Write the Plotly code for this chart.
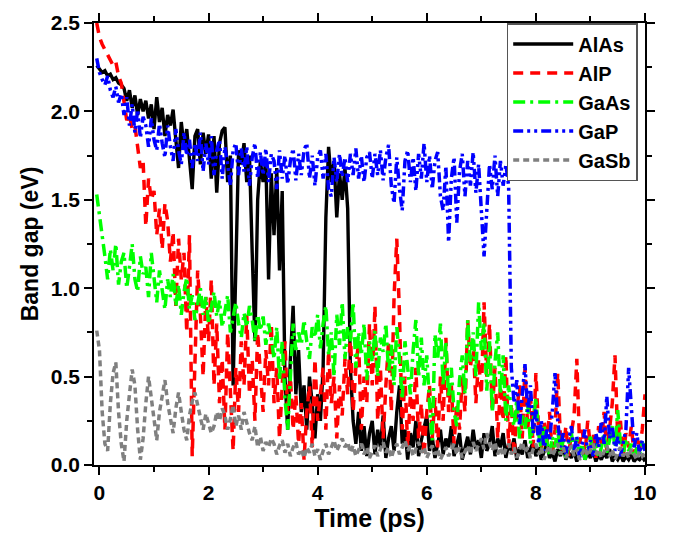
import plotly.graph_objects as go

T_START = -0.05
T_END = 10.0

alas = [
    2.26, 2.24, 2.22, 2.23, 2.20, 2.21, 2.18, 2.19, 2.16, 2.15,
    2.13, 2.06, 2.12, 2.02, 2.09, 1.98, 2.07, 2.00, 2.06, 1.96,
    2.04, 1.90, 2.08, 1.94, 2.02, 1.86, 1.98, 1.92, 2.01, 1.84,
    1.68, 1.94, 1.80, 1.90, 1.74, 1.56, 1.86, 1.90, 1.70, 1.88,
    1.76, 1.87, 1.62, 1.86, 1.54, 1.82, 1.89, 1.91, 1.60, 1.75,
    0.45, 1.20, 1.78, 1.70, 1.82, 1.60, 1.75, 1.20, 0.70, 1.50,
    1.72, 1.60, 1.72, 1.05, 1.65, 1.30, 1.68, 1.10, 1.55, 0.50,
    0.20, 0.60, 0.90, 0.40, 0.65, 0.30, 0.45, 0.20, 0.50, 0.35,
    0.15, 0.40, 0.25, 0.55, 1.40, 1.80, 1.60, 1.72, 1.40, 1.65,
    1.50, 1.68, 1.45, 0.55, 0.25,
    0.12, 0.30, 0.08, 0.22, 0.05, 0.18, 0.25, 0.06, 0.20, 0.10,
    0.28, 0.04, 0.15, 0.22, 0.08, 0.30, 0.45, 0.12, 0.20, 0.03,
    0.18, 0.10, 0.25, 0.05, 0.14, 0.22, 0.28, 0.08, 0.16, 0.04,
    0.12, 0.20, 0.06, 0.15, 0.10, 0.22, 0.05, 0.12, 0.18, 0.03,
    0.10, 0.16, 0.06, 0.20, 0.09, 0.14, 0.04, 0.18, 0.08, 0.12,
    0.22, 0.05, 0.15, 0.10, 0.18, 0.04, 0.12, 0.08, 0.15, 0.03,
    0.10, 0.06, 0.14, 0.04, 0.09, 0.13, 0.05, 0.10, 0.03, 0.08,
    0.12, 0.04, 0.07, 0.02, 0.09, 0.05, 0.11, 0.03, 0.07, 0.04,
    0.08, 0.02, 0.06, 0.10, 0.03, 0.07, 0.04, 0.08, 0.02, 0.06,
    0.03, 0.07, 0.04, 0.09, 0.02, 0.05, 0.03, 0.06, 0.02, 0.05,
    0.03, 0.06, 0.02, 0.04, 0.03, 0.05, 0.02,
]

alp = [
    2.50, 2.42, 2.38, 2.35, 2.33, 2.30, 2.26, 2.28, 2.20, 2.16,
    2.05, 1.95, 1.98, 1.90, 1.92, 1.78, 1.68, 1.72, 1.35, 1.62,
    1.50, 1.55, 1.30, 1.45, 1.22, 1.48, 1.38, 1.15, 1.32, 0.90,
    1.28, 1.05, 1.20, 0.75, 1.30, 0.05, 0.60, 1.10, 0.85, 0.50,
    0.95, 0.70, 1.05, 0.45, 0.80, 0.35, 0.60, 0.20, 0.75, 0.40,
    0.08, 0.55, 0.30, 0.70, 0.45, 0.85, 0.40, 0.60, 0.25, 0.75,
    0.50, 0.30, 0.65, 0.45, 0.80, 0.35, 0.55, 0.15, 0.45, 0.70,
    0.30, 0.50, 0.20, 0.40, 0.12, 0.35, 0.03, 0.30, 0.45, 0.10,
    0.60, 0.25, 0.40, 0.55, 0.20, 0.65, 0.35, 0.50, 0.15, 0.45,
    0.28, 0.60, 0.40, 0.75, 0.30, 0.55, 0.70, 0.20, 0.50, 0.35,
    0.80, 0.45, 0.90, 0.25, 0.55, 0.15, 0.45, 0.70, 0.30, 0.95,
    1.28, 0.85, 0.20, 0.50, 0.10, 0.40, 0.25, 0.55, 0.15, 0.35,
    0.05, 0.30, 0.45, 0.15, 0.38, 0.10, 0.50, 0.25, 0.72, 0.30,
    0.45, 0.12, 0.35, 0.20, 0.50, 0.30, 0.82, 0.55, 0.70, 0.35,
    0.60, 0.40, 0.92, 0.50, 0.80, 0.30, 0.55, 0.15, 0.45, 0.25,
    0.62, 0.10, 0.35, 0.05, 0.30, 0.45, 0.15, 0.55, 0.20, 0.40,
    0.10, 0.52, 0.20, 0.08, 0.25, 0.12, 0.30, 0.05, 0.20, 0.52,
    0.15, 0.08, 0.22, 0.05, 0.18, 0.28, 0.60, 0.12, 0.20, 0.06,
    0.25, 0.10, 0.18, 0.04, 0.22, 0.12, 0.30, 0.08, 0.20, 0.35,
    0.62, 0.15, 0.25, 0.05, 0.18, 0.10, 0.22, 0.06, 0.15, 0.08,
    0.20, 0.40,
]

gaas = [
    1.53, 1.42, 1.30, 1.18, 1.05, 1.22, 1.10, 1.25, 1.02, 1.15,
    1.20, 1.00, 1.12, 1.25, 1.05, 0.98, 1.18, 1.08, 1.12, 0.95,
    1.20, 1.05, 0.92, 1.10, 0.98, 0.88, 1.05, 0.95, 1.08, 0.90,
    1.02, 0.85, 0.98, 1.06, 0.88, 0.96, 0.82, 0.92, 1.00, 0.85,
    0.95, 0.80, 0.90, 0.98, 0.84, 0.93, 0.78, 0.88, 0.96, 0.75,
    0.85, 0.92, 0.80, 0.72, 0.86, 0.78, 0.90, 0.82, 0.70, 0.85,
    0.76, 0.84, 0.68, 0.80, 0.72, 0.60, 0.78, 0.48, 0.70, 0.38,
    0.20, 0.55, 0.80, 0.65, 0.75, 0.68, 0.82, 0.70, 0.60, 0.78,
    0.72, 0.85, 0.66, 0.80, 0.90, 0.62, 0.75, 0.50, 0.85, 0.68,
    0.92, 0.60, 0.78, 0.70, 0.92, 0.55, 0.75, 0.62, 0.80, 0.48,
    0.70, 0.58, 0.76, 0.50, 0.72, 0.64, 0.80, 0.52, 0.68, 0.45,
    0.78, 0.60, 0.37, 0.70, 0.55, 0.40, 0.65, 0.82, 0.50, 0.72,
    0.45, 0.62, 0.35, 0.14, 0.74, 0.60, 0.80, 0.45, 0.70, 0.38,
    0.55, 0.30, 0.22, 0.48, 0.62, 0.40, 0.82, 0.58, 0.75, 0.50,
    0.92, 0.65, 0.80, 0.42, 0.70, 0.30, 0.58, 0.75, 0.40, 0.62,
    0.25, 0.45, 0.30, 0.22, 0.37, 0.15, 0.28, 0.20, 0.35, 0.12,
    0.25, 0.38, 0.18, 0.08, 0.22, 0.12, 0.05, 0.16, 0.10, 0.20,
    0.06, 0.14, 0.04, 0.12, 0.18, 0.08, 0.15, 0.05, 0.12, 0.03,
    0.10, 0.16, 0.06, 0.12, 0.04, 0.10, 0.18, 0.07, 0.14, 0.22,
    0.10, 0.31, 0.12, 0.06, 0.15, 0.08, 0.12, 0.04, 0.10, 0.06,
    0.13, 0.08,
]

gap = [
    2.30, 2.22, 2.18, 2.15, 2.20, 2.12, 2.08, 2.14, 2.05, 2.10,
    1.98, 2.08, 1.92, 2.04, 1.88, 2.01, 1.85, 1.97, 1.92, 1.80,
    1.96, 1.84, 1.78, 1.93, 1.82, 1.74, 1.92, 1.80, 1.72, 1.90,
    1.78, 1.70, 1.88, 1.75, 1.84, 1.68, 1.82, 1.72, 1.88, 1.66,
    1.82, 1.70, 1.86, 1.64, 1.78, 1.84, 1.62, 1.80, 1.70, 1.58,
    1.78, 1.82, 1.64, 1.79, 1.66, 1.80, 1.58, 1.74, 1.82, 1.62,
    1.77, 1.64, 1.79, 1.60, 1.76, 1.72, 1.56, 1.78, 1.62, 1.75,
    1.59, 1.72, 1.79, 1.61, 1.76, 1.64, 1.78, 1.82, 1.62, 1.75,
    1.58, 1.74, 1.78, 1.62, 1.76, 1.56, 1.52, 1.74, 1.60, 1.76,
    1.63, 1.74, 1.60, 1.76, 1.64, 1.79, 1.62, 1.75, 1.60, 1.74,
    1.77, 1.62, 1.76, 1.64, 1.78, 1.61, 1.74, 1.81, 1.58, 1.48,
    1.74, 1.56, 1.44, 1.72, 1.78, 1.60, 1.74, 1.55, 1.76, 1.62,
    1.82, 1.60, 1.75, 1.56, 1.72, 1.77, 1.52, 1.44, 1.69, 1.26,
    1.62, 1.74, 1.37, 1.66, 1.76, 1.52, 1.72, 1.58, 1.77, 1.54,
    1.70, 1.46, 1.18, 1.44, 1.70, 1.56, 1.75, 1.52, 1.72, 1.58,
    1.70, 1.58, 0.55, 0.35, 0.48, 0.22, 0.40, 0.57, 0.30, 0.45,
    0.18, 0.32, 0.12, 0.25, 0.08, 0.20, 0.14, 0.30, 0.52, 0.25,
    0.10, 0.18, 0.06, 0.15, 0.22, 0.08, 0.16, 0.04, 0.12, 0.20,
    0.07, 0.14, 0.05, 0.18, 0.10, 0.25, 0.12, 0.39, 0.15, 0.22,
    0.08, 0.16, 0.05, 0.12, 0.20, 0.55, 0.30, 0.10, 0.18, 0.06,
    0.14, 0.08,
]

gasb = [
    0.76, 0.65, 0.30, 0.12, 0.08, 0.35, 0.52, 0.58, 0.30, 0.12,
    0.02, 0.25, 0.40, 0.54, 0.45, 0.20, 0.03, 0.15, 0.35, 0.50,
    0.38, 0.25, 0.14, 0.30, 0.40, 0.48, 0.35, 0.25, 0.18, 0.32,
    0.41, 0.30, 0.20, 0.14, 0.28, 0.36, 0.41, 0.34, 0.26, 0.20,
    0.29, 0.24, 0.18, 0.22, 0.30, 0.25, 0.32, 0.28, 0.20, 0.26,
    0.34, 0.22, 0.28, 0.20, 0.30, 0.24, 0.18, 0.14, 0.22, 0.10,
    0.16, 0.08, 0.13, 0.10, 0.15, 0.12, 0.06, 0.11, 0.14, 0.07,
    0.12, 0.05, 0.10, 0.13, 0.06, 0.09, 0.04, 0.10, 0.07, 0.12,
    0.05, 0.09, 0.03, 0.08, 0.12, 0.06, 0.10, 0.14, 0.08, 0.12,
    0.15, 0.10, 0.13, 0.07, 0.11, 0.05, 0.09, 0.12, 0.06, 0.10,
    0.04, 0.08, 0.11, 0.05, 0.09, 0.13, 0.07, 0.10, 0.04, 0.09,
    0.12, 0.06, 0.10, 0.14, 0.08, 0.11, 0.05, 0.09, 0.13, 0.07,
    0.10, 0.04, 0.08, 0.11, 0.06, 0.09, 0.03, 0.07, 0.10, 0.05,
    0.09, 0.12, 0.06, 0.10, 0.04, 0.08, 0.11, 0.06, 0.13, 0.08,
    0.11, 0.15, 0.09, 0.18, 0.12, 0.08, 0.13, 0.06, 0.10, 0.05,
    0.09, 0.12, 0.06, 0.10, 0.04, 0.08, 0.13, 0.07, 0.10, 0.04,
    0.09, 0.12, 0.06, 0.10, 0.03, 0.08, 0.11, 0.05, 0.09, 0.12,
    0.06, 0.10, 0.04, 0.08, 0.11, 0.05, 0.09, 0.03, 0.07, 0.10,
    0.05, 0.08, 0.12, 0.06, 0.09, 0.04, 0.08, 0.11, 0.05, 0.09,
    0.03, 0.07, 0.10, 0.05, 0.08, 0.04, 0.09, 0.06, 0.03, 0.08,
    0.05, 0.07,
]

names = ["AlAs", "AlP", "GaAs", "GaP", "GaSb"]
series = [alas, alp, gaas, gap, gasb]
colors = ["#000000", "#FF0000", "#00FF00", "#0000FF", "#808080"]
dashes = ["solid", "10px,7px", "12px,5px,3px,5px", "10px,4px,3px,4px,3px,4px", "6px,4px"]
widths = [3.4, 3.5, 3.5, 3.5, 3.5]


def times(vals):
    n = len(vals)
    return [T_START + (T_END - T_START) * i / (n - 1) for i in range(n)]


fig = go.Figure()
for nm, vals, c, d, w in zip(names, series, colors, dashes, widths):
    fig.add_trace(go.Scatter(
        x=times(vals), y=vals, mode="lines", name=nm,
        line=dict(color=c, width=w, dash=d),
    ))

FONT = "Liberation Sans, Arial, sans-serif"
axis_common = dict(
    showline=True, linecolor="black", linewidth=1.5, mirror="ticks",
    ticks="outside", ticklen=8, tickwidth=1.5, tickcolor="black",
    showgrid=False, zeroline=False,
    tickfont=dict(family=FONT, size=21, color="black", weight="bold"),
)

fig.update_layout(
    width=680, height=537,
    margin=dict(l=94, r=35, t=23, b=72),
    paper_bgcolor="white", plot_bgcolor="white",
    xaxis=dict(
        range=[-0.1, 10], tickvals=[0, 2, 4, 6, 8, 10],
        minor=dict(ticks="outside", ticklen=5, tickwidth=1.5, tickcolor="black", dtick=1, tick0=0),
        title=dict(text="Time (ps)", font=dict(family=FONT, size=25, color="black", weight="bold"), standoff=2),
        **axis_common,
    ),
    yaxis=dict(
        range=[0, 2.5], tickvals=[0, 0.5, 1.0, 1.5, 2.0, 2.5], tickformat=".1f",
        minor=dict(ticks="outside", ticklen=5, tickwidth=1.5, tickcolor="black", dtick=0.25, tick0=0),
        title=dict(text="Band gap (eV)", font=dict(family=FONT, size=23, color="black", weight="bold"), standoff=6),
        **axis_common,
    ),
    legend=dict(
        x=0.749, y=1, xanchor="left", yanchor="top",
        bgcolor="white", bordercolor="#555555", borderwidth=1.5,
        font=dict(family=FONT, size=20, color="black", weight="bold"),
        itemwidth=60,
    ),
)

fig.write_html("out.html")
